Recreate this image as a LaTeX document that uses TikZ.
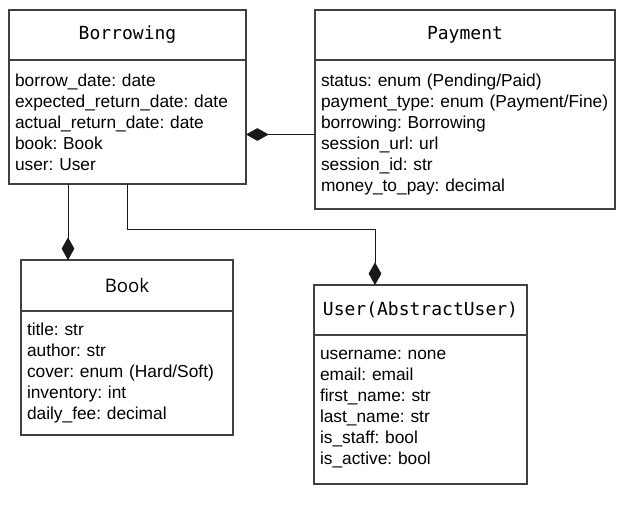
\documentclass[tikz,border=0pt]{standalone}
\usepackage{fontspec}
\setmainfont{Liberation Sans}
\newfontfamily\titlefont{DejaVu Sans Mono}
\newfontfamily\booktitlefont{Open Sans}
\usetikzlibrary{arrows.meta,positioning}
\frenchspacing

\begin{document}
\begin{tikzpicture}[x=0.75pt,y=-0.75pt]
		\tikzstyle{Head} 	= [rectangle, draw=black!75, line width=1.1pt, outer sep=0pt, anchor=north west, inner sep=0pt, font={\titlefont\fontsize{13.5}{16}\selectfont}]
		\tikzstyle{Fields}	= [rectangle, draw=black!75, line width=1.1pt, outer sep=0pt, inner xsep=4.5pt, inner ysep=0pt, align=left, font={\fontsize{13}{15.75}\selectfont}]
		\tikzstyle{Comp}	= [line width=0.7pt, black!90, -{Diamond[length=17pt,width=9.5pt]}]

		\useasboundingbox (0,0) rectangle (639,513);

		\node (bor) at (9,10) [Head][minimum width=177.75pt, minimum height=37.5pt] {Borrowing};
		\node (borF) [Fields, below=0pt of bor, text width=168.75pt, minimum height=93pt] {borrow\_date: date\\expected\_return\_date: date\\actual\_return\_date: date\\book: Book\\user: User};

		\node (pay) at (315,10) [Head][minimum width=225pt, minimum height=37.5pt] {Payment};
		\node (payF) [Fields, below=0pt of pay, text width=216pt, minimum height=111.75pt] {status: enum (Pending/Paid)\\payment\_type: enum (Payment/Fine)\\borrowing: Borrowing\\session\_url: url\\session\_id: str\\money\_to\_pay: decimal};

		\node (book) at (21,260) [Head][minimum width=159pt, minimum height=38.25pt, font={\booktitlefont\fontsize{14}{16}\selectfont}] {Book};
		\node (bookF) [Fields, below=0pt of book, text width=150pt, minimum height=93pt] {title: str\\author: str\\cover: enum (Hard/Soft)\\inventory: int\\daily\_fee: decimal};

		\node (user) at (314,285) [Head][minimum width=159.75pt, minimum height=37.5pt] {User(AbstractUser)};
		\node (userF) [Fields, below=0pt of user, text width=150.75pt, minimum height=111.75pt] {username: none\\email: email\\first\_name: str\\last\_name: str\\is\_staff: bool\\is\_active: bool};

		\coordinate (j1) at (68,0);
		\coordinate (j2) at (375,229);

		\draw [Comp] (payF.west) -- (payF.west -| borF.east);
		\draw [Comp] (borF.south -| j1) -- (j1 |- book.north);
		\draw [Comp] (borF.south) |- (j2) -- (j2 |- user.north);
	\end{tikzpicture}
\end{document}
